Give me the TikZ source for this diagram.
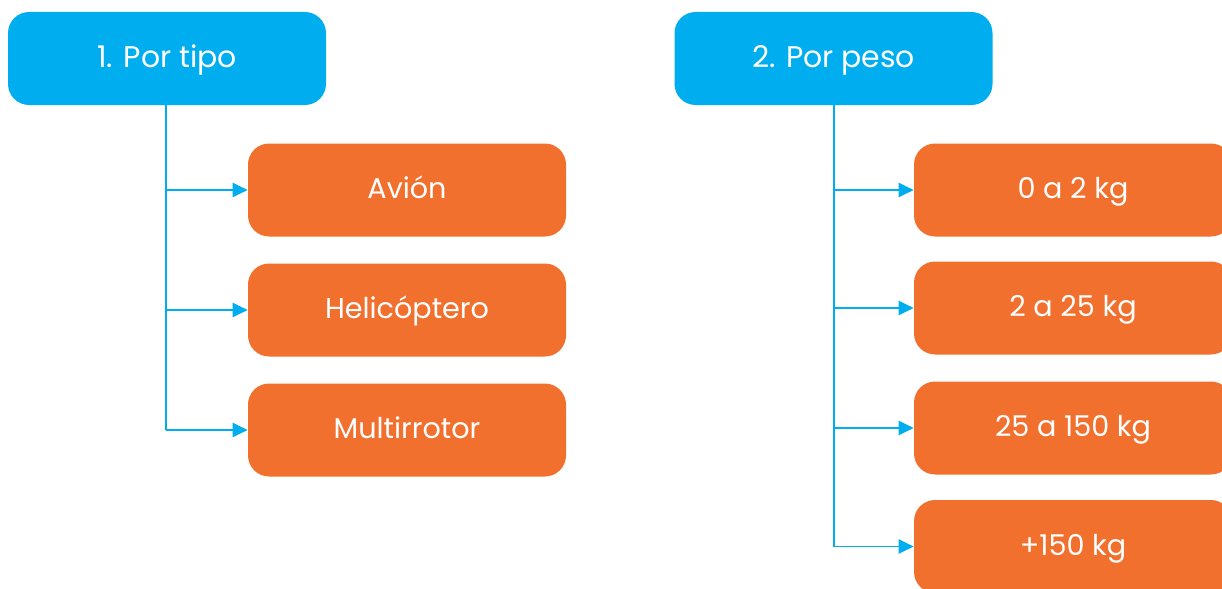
\documentclass[tikz,border=0pt]{standalone}
\usepackage{fontspec}
\setmainfont{Poppins}
\usetikzlibrary{arrows.meta}
\definecolor{hblue}{HTML}{00AEEF}
\definecolor{borange}{HTML}{F1702E}
\tikzset{
  box/.style={rounded corners=12pt, minimum width=318*0.02cm, minimum height=93*0.02cm, text=white, inner sep=0pt, text height=1.0em, text depth=0pt},
  head/.style={box, fill=hblue, font=\fontsize{17}{19}\selectfont},
  leaf/.style={box, fill=borange, font=\fontsize{16.3}{18}\selectfont},
  trunk/.style={draw=hblue, line width=1.1pt},
  link/.style={trunk, -{Triangle[length=8.5pt,width=8pt]}},
}
\begin{document}
\begin{tikzpicture}[x=0.02cm,y=-0.02cm]
\useasboundingbox (0,0) rectangle (1222,588);
\begin{scope}
\clip (0,0) rectangle (1222,588);
\node[head] (h1) at (167,58.5) {1. Por tipo};
\node[head] (h2) at (833.5,58.5) {2. Por peso};
\node[leaf] (a1) at (407,190) {Avión};
\node[leaf] (a2) at (407,310) {Helicóptero};
\node[leaf] (a3) at (407,430) {Multirrotor};
\node[leaf] (b1) at (1073,190) {0 a 2 kg};
\node[leaf] (b2) at (1073,308) {2 a 25 kg};
\node[leaf] (b3) at (1073,428) {25 a 150 kg};
\node[leaf] (b4) at (1073,546.5) {+150 kg};
\coordinate (t1) at (166,105);
\coordinate (t2) at (834,105);
\draw[trunk] (t1) -- (t1 |- a3.west);
\draw[trunk] (t2) -- (t2 |- b4.west);
\foreach \n in {a1,a2,a3} \draw[link] (t1 |- \n.west) -- (\n.west);
\foreach \n in {b1,b2,b3,b4} \draw[link] (t2 |- \n.west) -- (\n.west);
\end{scope}
\end{tikzpicture}
\end{document}
